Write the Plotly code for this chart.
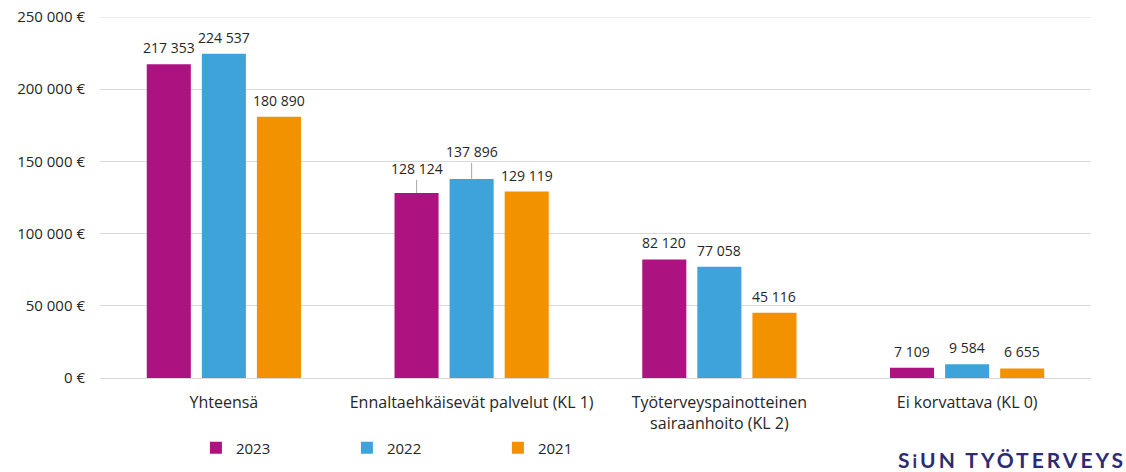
import plotly.graph_objects as go

categories = ["Yhteensä", "Ennaltaehkäisevät palvelut (KL 1)",
              "Työterveyspainotteinen<br>sairaanhoito (KL 2)", "Ei korvattava (KL 0)"]
years = ["2023", "2022", "2021"]
values_2023 = [217353, 128124, 82120, 7109]
values_2022 = [224537, 137896, 77058, 9584]
values_2021 = [180890, 129119, 45116, 6655]
colors = ["#AD1380", "#3FA3DB", "#F39200"]
tick_vals = [0, 50000, 100000, 150000, 200000, 250000]
tick_text = ["0 €", "50 000 €", "100 000 €", "150 000 €", "200 000 €", "250 000 €"]
# labels lifted above the bar with a leader line: (series index, category index, lift px)
leader_labels = {(0, 1): 22, (1, 1): 25}

FONT = "'Open Sans', sans-serif"
TXT = "#262626"
GRID = "#D9D9D9"


def fmt(v):
    return f"{v:,}".replace(",", " ")


series = [values_2023, values_2022, values_2021]
fig = go.Figure()
for si, (name, vals, col) in enumerate(zip(years, series, colors)):
    fig.add_trace(go.Bar(
        name=name, x=categories, y=vals, marker_color=col,
        marker_line_width=0, hoverinfo="skip",
    ))

slot_px = 55
for si, vals in enumerate(series):
    for ci, v in enumerate(vals):
        lift = leader_labels.get((si, ci))
        if lift is None:
            fig.add_annotation(
                x=categories[ci], y=v, xref="x", yref="y",
                xshift=(si - 1) * slot_px, yshift=5, yanchor="bottom",
                text=fmt(v), showarrow=False,
                font=dict(family=FONT, size=14, color=TXT),
            )
        else:
            fig.add_annotation(
                x=categories[ci], y=v, xref="x", yref="y",
                xshift=(si - 1) * slot_px,
                text=fmt(v), showarrow=True, arrowhead=0, arrowwidth=1,
                arrowcolor="#A6A6A6", ax=0, ay=-lift - 2, standoff=0,
                font=dict(family=FONT, size=14, color=TXT),
            )

# top gridline
fig.add_shape(type="line", xref="paper", yref="y", x0=0, x1=1,
              y0=tick_vals[-1], y1=tick_vals[-1], line=dict(color=GRID, width=1), layer="below")

fig.add_annotation(
    x=1.0, y=-0.227, xref="paper", yref="paper", xanchor="right", yanchor="middle",
    text="<span style='letter-spacing:3px'><b>S<span style='font-size:18px'>i</span>UN TYÖTERVEYS</b></span>",
    showarrow=False,
    font=dict(family="Lato, sans-serif", size=21, color="#2D2C72"),
    xshift=37,
)

fig.update_layout(
    width=1126, height=472,
    margin=dict(l=100, r=35, t=17, b=94, autoexpand=False),
    paper_bgcolor="white", plot_bgcolor="white",
    barmode="group", bargap=0.333, bargroupgap=0.2,
    font=dict(family=FONT, size=15, color=TXT),
    showlegend=True,
    legend=dict(orientation="h", xref="container", yref="container",
                x=0.174, xanchor="left", y=0.051, yanchor="middle",
                entrywidth=106, entrywidthmode="pixels", itemwidth=30,
                font=dict(family=FONT, size=15, color=TXT),
                traceorder="normal"),
    xaxis=dict(showline=False, ticks="", tickfont=dict(family=FONT, size=16, color=TXT),
               ticklabelstandoff=13, automargin=False),
    yaxis=dict(range=[0, 250000], tickvals=tick_vals, ticktext=tick_text,
               showgrid=True, gridcolor=GRID, gridwidth=1,
               zeroline=True, zerolinecolor=GRID, zerolinewidth=1,
               showline=False, ticks="", ticklabelstandoff=14, automargin=False,
               tickfont=dict(family=FONT, size=15, color=TXT)),
)

fig.write_html("out.html", config={"displayModeBar": False},
               post_script="document.body.style.margin='0';document.body.style.overflow='hidden';")
